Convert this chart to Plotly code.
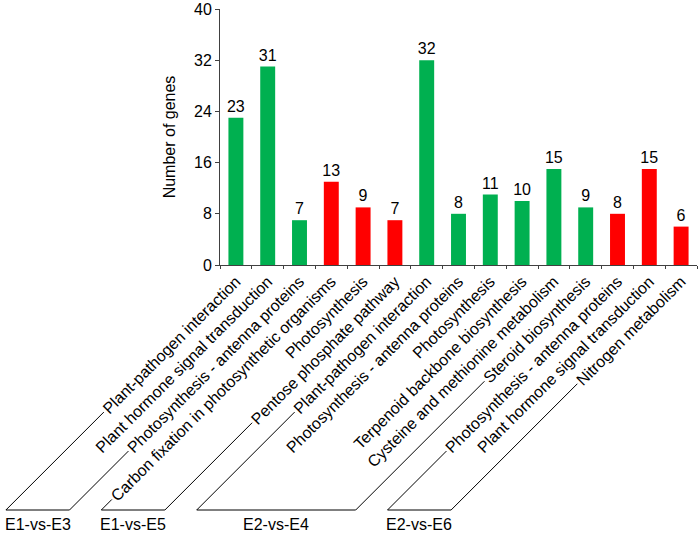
import math
import plotly.graph_objects as go

# ---------------- data ----------------
pathways = [
    "Plant-pathogen interaction",
    "Plant hormone signal transduction",
    "Photosynthesis - antenna proteins",
    "Carbon fixation in photosynthetic organisms",
    "Photosynthesis",
    "Pentose phosphate pathway",
    "Plant-pathogen interaction",
    "Photosynthesis - antenna proteins",
    "Photosynthesis",
    "Terpenoid backbone biosynthesis",
    "Cysteine and methionine metabolism",
    "Steroid biosynthesis",
    "Photosynthesis - antenna proteins",
    "Plant hormone signal transduction",
    "Nitrogen metabolism",
]
gene_counts = [23, 31, 7, 13, 9, 7, 32, 8, 11, 10, 15, 9, 8, 15, 6]
bar_kind = ["g", "g", "g", "r", "r", "r", "g", "g", "g", "g", "g", "g", "r", "r", "r"]
comparisons = (["E1-vs-E3"] * 3 + ["E1-vs-E5"] * 3 +
               ["E2-vs-E4"] * 6 + ["E2-vs-E6"] * 3)
y_ticks = [0, 8, 16, 24, 32, 40]

# ---------------- style / layout ----------------
KIND_COLOR = {"g": "#00B050", "r": "#FF0000"}
FONT = "Arial, 'Liberation Sans', sans-serif"
FS = 16
W, H = 700, 535
ML, MR, MT, MB = 220, 3, 9, 270
PW, PH = W - ML - MR, H - MT - MB
N = len(pathways)

# Arial advance widths (1/1000 em)
AW = {' ': 278, '-': 333}
AW.update(dict(zip("ABCDEFGHIJKLMNOPQRSTUVWXYZ",
                   [667, 667, 722, 722, 667, 611, 778, 722, 278, 500, 667, 556, 833,
                    722, 778, 667, 778, 722, 667, 611, 722, 667, 944, 667, 667, 611])))
AW.update(dict(zip("abcdefghijklmnopqrstuvwxyz",
                   [556, 556, 500, 556, 556, 278, 556, 556, 222, 222, 500, 222, 833,
                    556, 556, 556, 556, 333, 500, 278, 556, 500, 722, 500, 500, 500])))


def text_w(s):
    return sum(AW.get(c, 556) for c in s) * FS / 1000.0


def to_paper(px, py):
    return (px - ML) / PW, 1 - (py - MT) / PH


x_idx = list(range(N))

fig = go.Figure()
fig.add_trace(go.Bar(
    x=x_idx, y=gene_counts,
    marker=dict(color=[KIND_COLOR[k] for k in bar_kind], line=dict(width=0)),
    width=0.47,
    text=[str(v) for v in gene_counts], textposition="outside",
    constraintext="none",
    textfont=dict(family=FONT, size=FS, color="black"),
    cliponaxis=False, showlegend=False, hoverinfo="x+y",
))

# ---------------- brackets under the labels ----------------
OFF = 280          # x+y (px) of label baseline relative to tick centre
BASE_Y = 510       # y of the bracket bottoms
shapes = []
annotations = []
order = []
for c in comparisons:
    if c not in order:
        order.append(c)
for comp in order:
    members = [i for i, c in enumerate(comparisons) if c == comp]
    bx = []
    for i in (members[0], members[-1]):
        cx = ML + (i + 0.5) * PW / N
        s = cx + OFF
        d = text_w(pathways[i]) / math.sqrt(2) + 2
        x_end = cx + 2
        y_end = s - x_end
        xs, ys = x_end - d, y_end + d
        xb = s - BASE_Y
        bx.append(xb)
        p0 = to_paper(xs, ys)
        p1 = to_paper(xb, BASE_Y)
        shapes.append(dict(type="line", xref="paper", yref="paper",
                           x0=p0[0], y0=p0[1], x1=p1[0], y1=p1[1],
                           line=dict(color="black", width=1)))
    q0 = to_paper(bx[0], BASE_Y)
    q1 = to_paper(bx[1], BASE_Y)
    shapes.append(dict(type="line", xref="paper", yref="paper",
                       x0=q0[0], y0=q0[1], x1=q1[0], y1=q1[1],
                       line=dict(color="black", width=1)))
    lx, ly = to_paper((bx[0] + bx[1]) / 2, 524)
    annotations.append(dict(text=comp, xref="paper", yref="paper", x=lx, y=ly,
                            xanchor="center", yanchor="middle", showarrow=False,
                            font=dict(family=FONT, size=FS, color="black")))

fig.update_layout(
    width=W, height=H,
    margin=dict(l=ML, r=MR, t=MT, b=MB, pad=0),
    paper_bgcolor="white", plot_bgcolor="white",
    font=dict(family=FONT, size=FS, color="black"),
    shapes=shapes, annotations=annotations,
    xaxis=dict(
        range=[-0.5, N - 0.5], tickmode="array", tickvals=x_idx, ticktext=pathways,
        tickangle=-45, ticks="", showgrid=False, zeroline=False,
        showline=True, linecolor="#404040", linewidth=1,
        tickfont=dict(family=FONT, size=FS, color="black"),
        minor=dict(tickmode="linear", tick0=-0.5, dtick=1, ticks="outside",
                   ticklen=3, tickcolor="#404040", showgrid=False),
        automargin=False,
    ),
    yaxis=dict(
        range=[0, 40], tickmode="array", tickvals=y_ticks,
        ticks="outside", ticklen=4, tickcolor="#404040",
        showgrid=False, zeroline=False, showline=True,
        linecolor="#404040", linewidth=1,
        tickfont=dict(family=FONT, size=FS, color="black"),
        title=dict(text="Number of genes", standoff=14,
                   font=dict(family=FONT, size=FS, color="black")),
        automargin=False,
    ),
)

fig.write_html("out.html", config={"displayModeBar": False},
               post_script="document.body.style.margin='0';")
